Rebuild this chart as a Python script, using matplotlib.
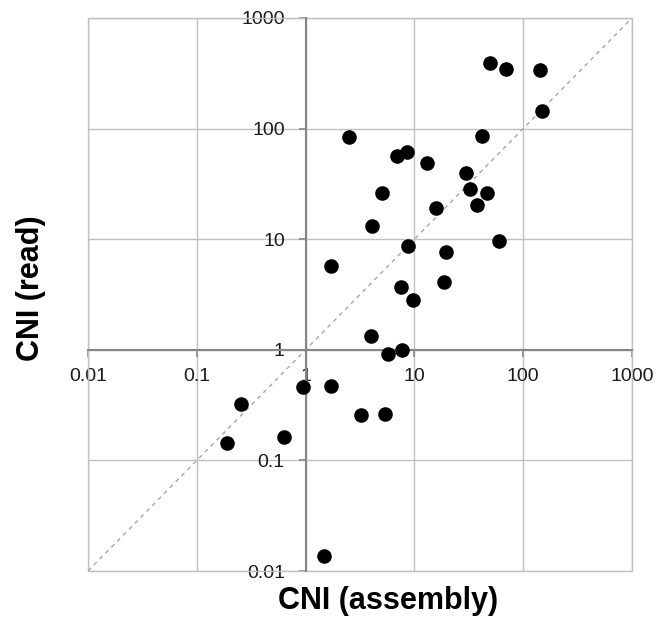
import numpy as np
import matplotlib
matplotlib.use('Agg')
import matplotlib.pyplot as plt
from matplotlib.patches import Rectangle

plt.rcParams['font.family'] = ['Liberation Sans', 'DejaVu Sans']

# CNI values (assembly on x, read on y)
cni_assembly = [50, 69.5, 143.6, 149, 2.52, 42.2, 6.98, 8.55, 12.97, 29.5,
                32.1, 46.5, 5.08, 37.6, 15.7, 4.08, 59.3, 8.70, 19.5, 1.72,
                7.58, 18.9, 9.81, 4.02, 5.73, 7.76, 0.94, 1.72, 0.253, 3.20,
                5.40, 0.627, 0.188, 1.48]
cni_read = [393, 349, 339, 143.5, 84, 86.4, 56.5, 62, 49.2, 40,
            28.3, 26.1, 26.4, 20.4, 19.0, 13.06, 9.61, 8.73, 7.71, 5.76,
            3.72, 4.09, 2.81, 1.32, 0.912, 1.0, 0.465, 0.469, 0.325, 0.256,
            0.261, 0.164, 0.143, 0.0136]

ticks = [0.01, 0.1, 1, 10, 100, 1000]
tick_labels = ['0.01', '0.1', '1', '10', '100', '1000']

fig = plt.figure(figsize=(6.59, 6.31), dpi=100)
ax = fig.add_axes([88 / 659, 1 - 571 / 631, 544 / 659, 553 / 631])

ax.set_xscale('log')
ax.set_yscale('log')
ax.set_xlim(0.01, 1000)
ax.set_ylim(0.01, 1000)

grid_col = '#c0c0c0'
ax.grid(True, color=grid_col, linewidth=1.0)
ax.set_axisbelow(True)

# 1:1 line
ax.plot([0.01, 1000], [0.01, 1000], linestyle=(0, (3, 3)), color='#a6a6a6',
        linewidth=1.0, zorder=2)

ax.scatter(cni_assembly, cni_read, s=90, color='black', zorder=3)

ax.set_xticks(ticks, tick_labels)
ax.set_yticks(ticks, tick_labels)
ax.minorticks_off()

# axes crossing at (1, 1)
for side in ['top', 'right']:
    ax.spines[side].set_visible(False)
ax.spines['left'].set_position(('data', 1))
ax.spines['bottom'].set_position(('data', 1))
for side in ['left', 'bottom']:
    ax.spines[side].set_color('#868686')
    ax.spines[side].set_linewidth(1.5)
    ax.spines[side].set_zorder(2.5)

ax.add_patch(Rectangle((0, 0), 1, 1, transform=ax.transAxes, fill=False,
                       edgecolor=grid_col, linewidth=1.0, clip_on=False))

ax.tick_params(axis='both', direction='out', length=5, width=1.2,
               color='#868686', labelsize=14, labelcolor='#1a1a1a')
ax.tick_params(axis='x', pad=8)
ax.tick_params(axis='y', pad=10)

fig.text(388 / 659, 1 - 601 / 631, 'CNI (assembly)', ha='center', va='center',
         fontsize=22, fontweight='bold')
fig.text(31 / 659, 1 - 288 / 631, 'CNI (read)', ha='center', va='center',
         rotation=90, fontsize=22, fontweight='bold')

fig.savefig('out.png', dpi=100)
